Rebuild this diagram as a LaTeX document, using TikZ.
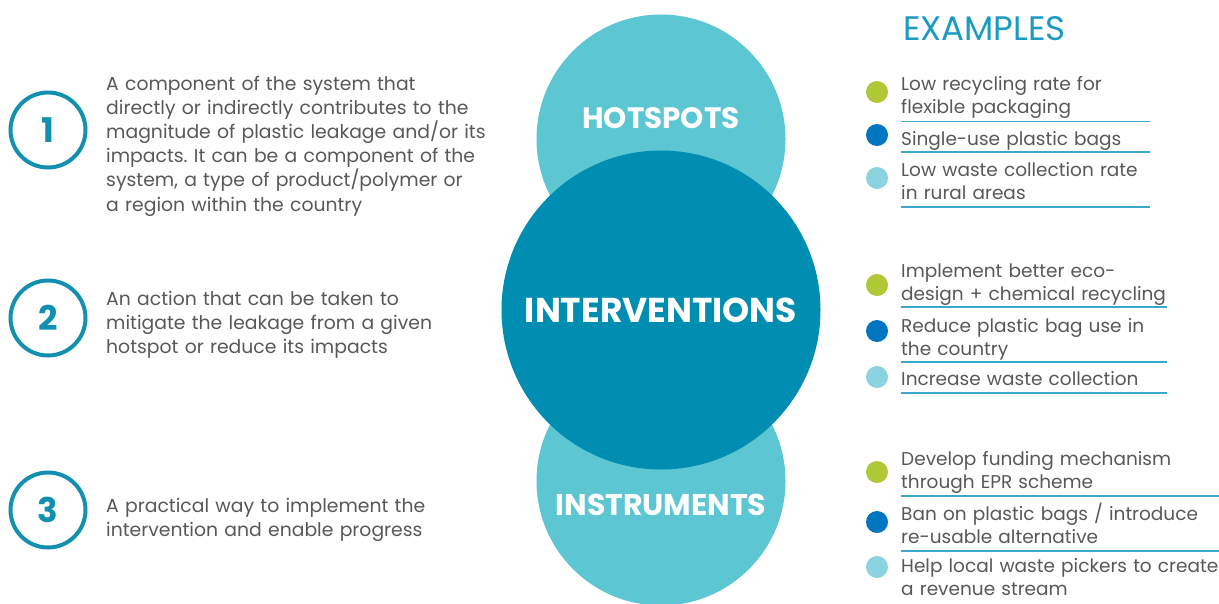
\documentclass[tikz,border=0pt]{standalone}
\usepackage{fontspec}
\setmainfont{Poppins}
\usetikzlibrary{positioning}

\definecolor{lightteal}{HTML}{5CC6D2}
\definecolor{darkteal}{HTML}{008DB2}
\definecolor{numteal}{HTML}{1190B0}
\definecolor{ruleteal}{HTML}{3AA8C9}
\definecolor{headteal}{HTML}{1A9BC2}
\definecolor{textgray}{HTML}{585858}
\definecolor{dotgreen}{HTML}{AFC836}
\definecolor{dotblue}{HTML}{0076C1}
\definecolor{dotpale}{HTML}{8BD3DE}

\frenchspacing
\begin{document}
\begin{tikzpicture}[x=1pt, y=-1pt,
lefttext/.style={anchor=base west, inner sep=0pt, text width=420pt, align=left,
  text=textgray, font=\fontsize{18.8}{24.2}\selectfont},
extext/.style={anchor=base west, inner sep=0pt, text width=420pt, align=left,
  text=textgray, font=\fontsize{18.5}{23}\selectfont},
numring/.style={circle, draw=numteal, line width=4pt, minimum size=75pt,
  inner sep=0pt, text=numteal, font=\fontsize{34}{34}\selectfont\bfseries},
disclabel/.style={inner sep=0pt, text=white, font=\bfseries},
dot/.style={circle, minimum size=22pt, inner sep=0pt},
exrule/.style={draw=ruleteal, line width=1.4pt}
]
\useasboundingbox (0,0) rectangle (1219,603);
\clip (0,0) rectangle (1219,603);

% the three discs
\fill[lightteal] (661,139) circle (124.5);
\fill[lightteal] (661,481) circle (124.5);
\fill[darkteal] (661,310) circle (159.5);

\node[disclabel, font=\fontsize{29.5}{29.5}\selectfont\bfseries] (hotspots) at (661,118) {HOTSPOTS};
\node[disclabel, font=\fontsize{34.5}{34.5}\selectfont\bfseries] (interventions) at (661,310) {INTERVENTIONS};
\node[disclabel, font=\fontsize{30}{30}\selectfont\bfseries] (instruments) at (661,505) {INSTRUMENTS};

% definitions on the left
\node[numring] (one) at (48,130) {1};
\node[numring] (two) at (48,318) {2};
\node[numring] (three) at (48,510) {3};

\node[lefttext] (defone) at (106,90) {A component of the system that\\
directly or indirectly contributes to the\\
magnitude of plastic leakage and/or its\\
impacts. It can be a component of the\\
system, a type of product/polymer or\\
a region within the country};
\node[lefttext] (deftwo) at (106,305) {An action that can be taken to\\
mitigate the leakage from a given\\
hotspot or reduce its impacts};
\node[lefttext] (defthree) at (106,512) {A practical way to implement the\\
intervention and enable progress};

% examples on the right
\node[anchor=base west, inner sep=0pt, text=headteal,
  font=\fontsize{34}{34}\selectfont] (examples) at (903,40) {EXAMPLES};

\node[dot, fill=dotgreen] (hotdotA) at (877,92) {};
\node[dot, fill=dotblue] (hotdotB) at (877,135) {};
\node[dot, fill=dotpale] (hotdotC) at (877,178) {};
\node[extext] (hotA) at (901,90) {Low recycling rate for\\ flexible packaging};
\node[extext] (hotB) at (901,145) {Single-use plastic bags};
\node[extext] (hotC) at (901,176) {Low waste collection rate\\ in rural areas};
\draw[exrule] (901,121.7) -- (1150,121.7);
\draw[exrule] (901,152) -- (1150,152);
\draw[exrule] (901,207) -- (1150,207);

\node[dot, fill=dotgreen] (intdotA) at (877,285) {};
\node[dot, fill=dotblue] (intdotB) at (877,331) {};
\node[dot, fill=dotpale] (intdotC) at (877,377) {};
\node[extext] (intA) at (901,277) {Implement better eco-\\ design + chemical recycling};
\node[extext] (intB) at (901,332) {Reduce plastic bag use in\\ the country};
\node[extext] (intC) at (901,385) {Increase waste collection};
\draw[exrule] (901,307) -- (1167,307);
\draw[exrule] (901,362) -- (1167,362);
\draw[exrule] (901,393) -- (1167,393);

\node[dot, fill=dotgreen] (insdotA) at (877,472) {};
\node[dot, fill=dotblue] (insdotB) at (877,522) {};
\node[dot, fill=dotpale] (insdotC) at (877,567) {};
\node[extext] (insA) at (901,465) {Develop funding mechanism\\ through EPR scheme};
\node[extext] (insB) at (901,520) {Ban on plastic bags / introduce\\ re-usable alternative};
\node[extext] (insC) at (901,572) {Help local waste pickers to create\\ a revenue stream};
\draw[exrule] (901,496) -- (1219,496);
\draw[exrule] (901,551) -- (1219,551);

\end{tikzpicture}
\end{document}
